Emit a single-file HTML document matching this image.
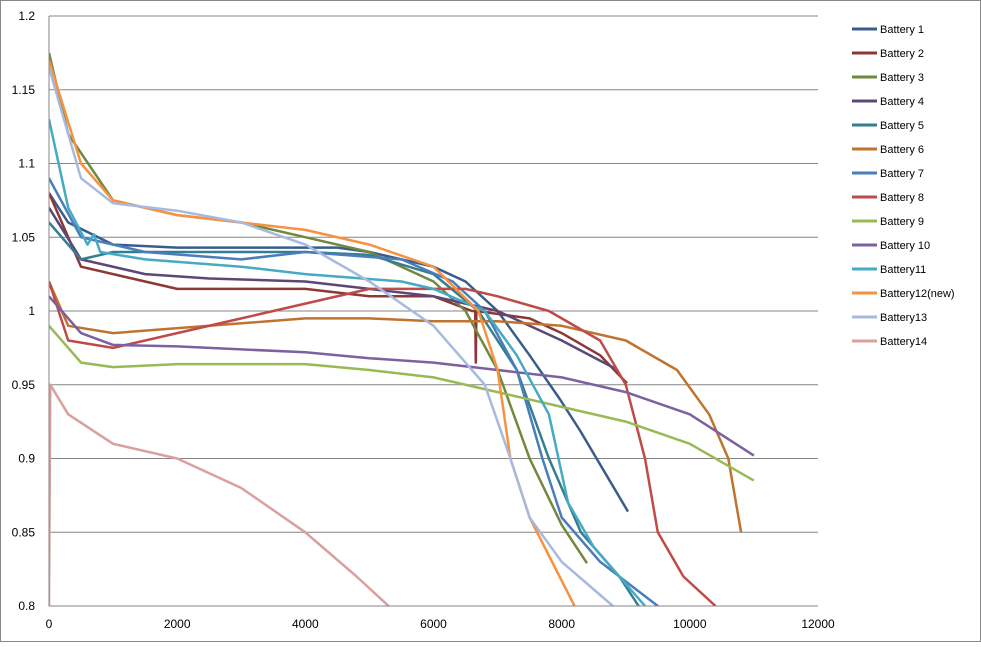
<!DOCTYPE html>
<html><head><meta charset="utf-8"><style>
body{margin:0;background:#fff;font-family:"Liberation Sans",Arial,sans-serif}
svg text{font-family:"Liberation Sans",Arial,sans-serif;font-size:12px;fill:#000}
</style></head><body>
<svg id="chart" width="981" height="642" xmlns="http://www.w3.org/2000/svg">
<rect x="0.5" y="0.5" width="980" height="641" fill="#fff" stroke="#888"/>
<defs><clipPath id="plotclip"><rect x="49" y="16" width="769" height="590"/></clipPath></defs>
<g id="grid"></g><g id="series" clip-path="url(#plotclip)"></g><g id="axes"></g><g id="legend"></g>
</svg>
<script>
const xTicks=[0,2000,4000,6000,8000,10000,12000];
const yTicks=[0.8,0.85,0.9,0.95,1,1.05,1.1,1.15,1.2];
const names=["Battery 1","Battery 2","Battery 3","Battery 4","Battery 5","Battery 6","Battery 7","Battery 8","Battery 9","Battery 10","Battery11","Battery12(new)","Battery13","Battery14"];
const colors=["#385D8A","#8C3836","#71893F","#5C4776","#357D91","#C0732F","#4A7EBB","#BE4B48","#98B954","#7D60A0","#46AAC5","#F69240","#A7B9DE","#D9A09E"];
const b1=[[0,1.08],[300,1.06],[1000,1.045],[2000,1.043],[3000,1.043],[4500,1.043],[5000,1.04],[6000,1.03],[6500,1.02],[7000,1.0],[7500,0.97],[7975,0.94],[8286,0.919],[9035,0.864]];
const b2=[[0,1.08],[500,1.03],[1500,1.02],[2000,1.015],[4000,1.015],[5000,1.01],[6000,1.01],[6600,1.0],[6650,1.0],[6660,0.965],[6670,1.0],[7500,0.995],[8000,0.985],[8600,0.97],[9020,0.951]];
const b3=[[0,1.175],[300,1.12],[1000,1.075],[2000,1.065],[3000,1.06],[4000,1.05],[5000,1.04],[6000,1.02],[6500,1.0],[7000,0.96],[7500,0.9],[8000,0.855],[8396,0.829]];
const b4=[[0,1.07],[500,1.035],[1500,1.025],[2500,1.022],[4000,1.02],[5000,1.015],[6000,1.01],[7000,1.0],[7500,0.99],[8000,0.98],[8833,0.961]];
const b5=[[0,1.06],[500,1.035],[1000,1.04],[4000,1.04],[5000,1.038],[6000,1.025],[6700,1.0],[7300,0.96],[7800,0.9],[8300,0.85],[8900,0.82],[9200,0.8]];
const b6=[[0,1.02],[300,0.99],[1000,0.985],[2500,0.99],[4000,0.995],[5000,0.995],[6000,0.993],[7000,0.993],[8000,0.99],[9000,0.98],[9800,0.96],[10300,0.93],[10600,0.9],[10800,0.85]];
const b7=[[0,1.09],[500,1.05],[1500,1.04],[3000,1.035],[4000,1.04],[5500,1.035],[6300,1.02],[6800,1.0],[7300,0.96],[7700,0.9],[8000,0.86],[8600,0.83],[9500,0.8]];
const b8=[[0,1.02],[300,0.98],[1000,0.975],[2000,0.985],[3000,0.995],[4000,1.005],[5000,1.015],[6500,1.015],[7000,1.01],[7800,1.0],[8600,0.98],[9000,0.95],[9300,0.9],[9500,0.85],[9900,0.82],[10400,0.8]];
const b9=[[0,0.99],[500,0.965],[1000,0.962],[2000,0.964],[4000,0.964],[5000,0.96],[6000,0.955],[7000,0.945],[8000,0.935],[9000,0.925],[10000,0.91],[11000,0.885]];
const b10=[[0,1.01],[500,0.985],[1000,0.977],[2000,0.976],[4000,0.972],[5000,0.968],[6000,0.965],[7000,0.96],[8000,0.955],[9000,0.945],[10000,0.93],[11000,0.902]];
const b11=[[0,1.13],[300,1.07],[600,1.045],[700,1.052],[800,1.04],[1500,1.035],[3000,1.03],[4000,1.025],[5500,1.02],[6000,1.015],[6800,1.0],[7300,0.97],[7800,0.93],[8100,0.87],[8500,0.84],[9300,0.8]];
const b12=[[0,1.17],[500,1.1],[1000,1.075],[2000,1.065],[3000,1.06],[4000,1.055],[5000,1.045],[6000,1.03],[6700,1.0],[7000,0.96],[7200,0.9],[7500,0.86],[8200,0.8]];
const b13=[[0,1.165],[500,1.09],[1000,1.073],[2000,1.068],[3000,1.06],[4000,1.045],[5000,1.02],[6000,0.99],[6800,0.95],[7200,0.9],[7500,0.86],[8000,0.83],[8800,0.8]];
const b14=[[0,0.8],[20,0.95],[300,0.93],[1000,0.91],[2000,0.9],[3000,0.88],[4000,0.85],[4800,0.82],[5300,0.8]];
const seriesData=[b1,b2,b3,b4,b5,b6,b7,b8,b9,b10,b11,b12,b13,b14];
const NS="http://www.w3.org/2000/svg";
const X0=49,X1=818,Y0=606,Y1=16;
function xs(v){return X0+(v-0)/(12000-0)*(X1-X0);}
function ys(v){return Y0-(v-0.8)/(1.2-0.8)*(Y0-Y1);}
function mk(t,a,p){const e=document.createElementNS(NS,t);for(const k in a)e.setAttribute(k,a[k]);p.appendChild(e);return e;}
const grid=document.getElementById('grid'),axes=document.getElementById('axes'),ser=document.getElementById('series'),leg=document.getElementById('legend');
yTicks.forEach(v=>{
 const l=mk('line',{x1:X0,x2:X1,y1:ys(v),y2:ys(v),stroke:'#868686','stroke-width':1},grid);
 
 
 const t=mk('text',{x:35,y:ys(v)+4,'text-anchor':'end'},axes);t.textContent=String(v);
 
 
});
const ax=mk('line',{x1:X0,x2:X0,y1:Y1,y2:Y0,stroke:'#868686'},axes);


const axx=mk('line',{x1:X0,x2:X1,y1:Y0,y2:Y0,stroke:'#868686'},axes);


xTicks.forEach(v=>{
 const t=mk('text',{x:xs(v),y:628,'text-anchor':'middle'},axes);t.textContent=String(v);
 
 
});
seriesData.forEach((d,i)=>{
 const p=mk('polyline',{points:d.map(q=>xs(q[0]).toFixed(1)+','+ys(q[1]).toFixed(1)).join(' '),fill:'none',stroke:colors[i],'stroke-width':2.5,'stroke-linejoin':'round'},ser);
 
 
 const g=mk('g',{},leg);
 
 
 const y=29+i*24;
 mk('line',{x1:852,x2:877,y1:y,y2:y,stroke:colors[i],'stroke-width':3},g);
 const t=mk('text',{x:880,y:y+4,style:'font-size:11px'},g);t.textContent=names[i];
});
</script>
</body></html>
